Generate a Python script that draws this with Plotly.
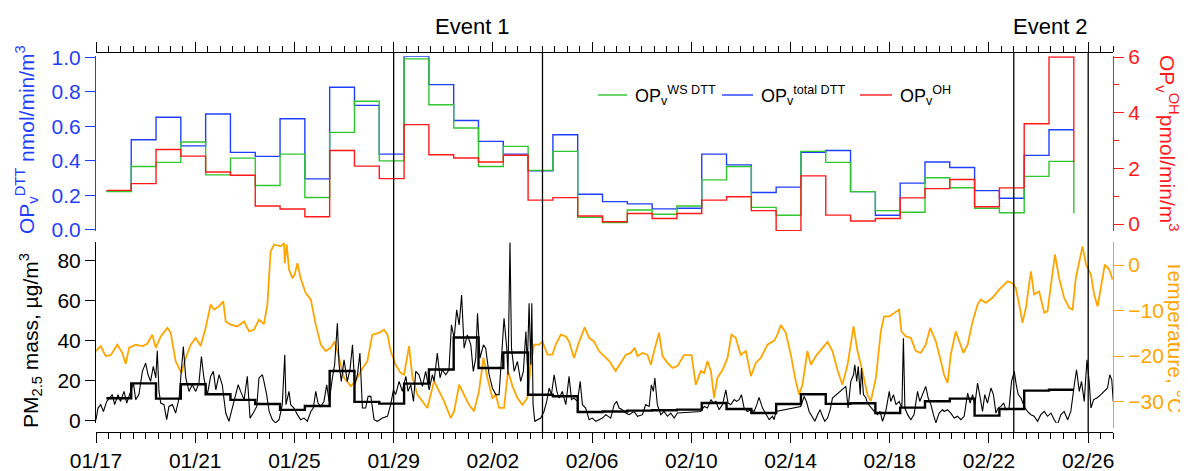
import pandas as pd
import plotly.graph_objects as go

BASE = pd.Timestamp("2019-01-17")

# ---- top panel: daily filter samples (39 samples + closing point) ----
first_bin_offset_days = 0.42
n_bins = 40
op_total_dtt = [0.225, 0.522, 0.652, 0.487, 0.671, 0.449, 0.426, 0.644, 0.296, 0.826,
                0.721, 0.439, 1.005, 0.841, 0.634, 0.513, 0.439, 0.342, 0.551, 0.207,
                0.164, 0.151, 0.122, 0.126, 0.439, 0.377, 0.217, 0.248, 0.449, 0.460,
                0.222, 0.085, 0.271, 0.393, 0.362, 0.228, 0.184, 0.432, 0.580, 0.580]
op_ws_dtt = [0.222, 0.367, 0.391, 0.509, 0.319, 0.416, 0.257, 0.439, 0.188, 0.565,
             0.745, 0.400, 0.990, 0.725, 0.590, 0.367, 0.484, 0.345, 0.455, 0.074,
             0.043, 0.116, 0.091, 0.139, 0.290, 0.367, 0.131, 0.085, 0.455, 0.391,
             0.222, 0.112, 0.103, 0.302, 0.244, 0.126, 0.100, 0.310, 0.397, 0.097]
op_oh = [1.21, 1.45, 2.68, 2.44, 1.87, 1.75, 0.65, 0.54, 0.26, 2.64,
         2.08, 1.63, 3.57, 2.49, 2.37, 2.23, 2.47, 0.86, 0.95, 0.29,
         0.08, 0.38, 0.20, 0.38, 0.86, 0.98, 0.48, -0.24, 1.73, 0.32,
         0.11, 0.20, 0.94, 1.27, 1.60, 0.62, 1.30, 3.60, 6.00, 2.23]
pm_daily = [11.2, 18.6, 11.0, 18.2, 13.2, 10.4, 8.3, 5.4, 7.3, 24.8,
            9.4, 8.5, 18.5, 25.5, 41.5, 26.3, 34.0, 12.9, 12.2, 4.3,
            4.6, 5.0, 5.2, 5.5, 8.8, 5.8, 3.8, 8.3, 13.2, 8.4,
            8.7, 3.8, 6.5, 9.7, 11.0, 2.5, 5.8, 15.0, 15.4, 15.4]

# ---- bottom panel: high-time-resolution records (days after 01/17 00:00) ----
temp_day = [0.00, 0.19, 0.39, 0.59, 0.86, 1.06, 1.20, 1.33, 1.60, 1.87, 2.07, 2.27, 2.41, 2.61, 2.88,
            3.01, 3.21, 3.44, 3.62, 3.82, 4.02, 4.22, 4.42, 4.62, 4.76, 4.96, 5.13, 5.23, 5.43, 5.70,
            5.97, 6.17, 6.37, 6.57, 6.77, 6.91, 7.04, 7.18, 7.45, 7.58, 7.61, 7.69, 7.78, 7.92, 8.01,
            8.12, 8.25, 8.45, 8.66, 8.86, 9.06, 9.26, 9.46, 9.62, 9.80, 10.00, 10.27, 10.47, 10.67, 10.94,
            11.14, 11.41, 11.61, 11.75, 11.88, 12.08, 12.28, 12.42, 12.62, 12.76, 12.96, 13.23, 13.36, 13.49, 13.63,
            13.83, 14.03, 14.30, 14.44, 14.64, 14.84, 15.04, 15.24, 15.44, 15.62, 15.78, 15.98, 16.12, 16.25, 16.45,
            16.61, 16.79, 16.99, 17.19, 17.39, 17.53, 17.66, 17.86, 18.00, 18.20, 18.40, 18.53, 18.74, 18.94, 19.07,
            19.27, 19.48, 19.70, 19.88, 20.08, 20.28, 20.48, 20.69, 20.95, 21.16, 21.36, 21.56, 21.72, 21.83, 22.03,
            22.23, 22.37, 22.50, 22.70, 22.84, 23.04, 23.24, 23.44, 23.71, 24.01, 24.18, 24.38, 24.52, 24.65, 24.79,
            24.92, 25.05, 25.26, 25.46, 25.62, 25.79, 25.99, 26.20, 26.40, 26.60, 26.80, 27.07, 27.34, 27.47, 27.61,
            27.81, 28.01, 28.21, 28.35, 28.48, 28.68, 28.82, 29.02, 29.29, 29.49, 29.69, 29.89, 30.09, 30.30, 30.54,
            30.70, 30.90, 31.10, 31.24, 31.44, 31.64, 31.77, 31.98, 32.18, 32.38, 32.47, 32.65, 32.85, 33.05, 33.25,
            33.45, 33.63, 33.86, 34.06, 34.19, 34.33, 34.46, 34.66, 34.80, 34.97, 35.14, 35.34, 35.54, 35.67, 35.87,
            36.14, 36.41, 36.61, 36.75, 36.95, 37.08, 37.22, 37.35, 37.49, 37.69, 37.82, 38.02, 38.23, 38.36, 38.50,
            38.66, 38.83, 39.03, 39.23, 39.37, 39.50, 39.64, 39.77, 39.91, 40.11, 40.24, 40.38, 40.51, 40.67, 40.85,
            40.98]
temp_val = [-18.9, -17.8, -20.0, -19.8, -17.5, -19.3, -21.7, -18.2, -17.5, -17.8, -17.3, -15.3, -18.2, -15.7, -13.8,
            -14.9, -21.1, -23.7, -20.4, -17.5, -16.0, -17.8, -13.8, -8.7, -9.8, -9.1, -8.0, -12.4, -13.1, -13.5,
            -12.4, -14.6, -14.2, -12.0, -13.0, -8.7, 3.0, 4.5, 4.1, 4.8, 0.4, 4.5, -1.0, -2.9, -2.1,
            0.4, -2.9, -6.1, -7.6, -13.1, -17.5, -18.9, -18.2, -16.8, -20.4, -24.8, -26.6, -25.5, -23.3, -21.1,
            -15.3, -14.9, -14.2, -15.3, -18.9, -21.9, -23.7, -24.1, -17.8, -24.8, -28.5, -30.3, -31.4, -28.5, -25.5,
            -27.7, -29.9, -33.6, -32.1, -26.3, -28.5, -30.7, -32.1, -27.7, -20.4, -24.8, -29.2, -28.5, -31.4, -31.4,
            -23.3, -26.6, -29.2, -30.7, -29.2, -21.9, -17.5, -17.5, -16.8, -19.7, -19.7, -17.5, -15.3, -15.7, -16.8,
            -20.4, -16.8, -13.7, -16.0, -16.8, -18.9, -20.0, -21.1, -23.3, -21.5, -19.7, -19.3, -18.2, -20.0, -19.3,
            -19.7, -21.9, -18.9, -14.9, -20.0, -21.5, -22.6, -22.2, -19.8, -19.8, -26.3, -23.3, -23.7, -21.1, -23.3,
            -29.2, -24.8, -23.0, -20.4, -15.3, -16.0, -19.7, -18.9, -24.4, -21.5, -20.4, -17.5, -16.6, -15.3, -13.2,
            -14.9, -19.7, -25.5, -28.5, -26.3, -18.9, -21.9, -20.0, -18.2, -16.9, -18.9, -23.0, -26.3, -21.9, -13.5,
            -18.9, -23.3, -28.5, -29.9, -24.8, -14.6, -11.3, -11.3, -10.5, -9.8, -14.6, -15.7, -16.0, -18.9, -19.3,
            -17.5, -13.8, -16.8, -21.1, -24.1, -25.9, -19.7, -14.6, -16.8, -19.3, -17.5, -12.4, -8.7, -7.6, -8.3,
            -7.2, -5.4, -4.3, -3.6, -4.0, -5.0, -8.7, -12.7, -9.4, -1.4, -6.5, -5.8, -10.5, -10.2, -4.3,
            2.3, -2.9, -7.2, -9.4, -9.8, -2.9, 0.8, 4.1, 0.1, -2.1, -6.5, -9.1, -5.0, 0.1, -1.0,
            -3.2]

pm_day = [0.00, 0.08, 0.19, 0.30, 0.43, 0.56, 0.66, 0.75, 0.89, 0.99, 1.13, 1.24, 1.40, 1.51, 1.60,
          1.73, 1.87, 2.00, 2.10, 2.20, 2.31, 2.41, 2.47, 2.54, 2.61, 2.74, 2.85, 2.94, 3.08, 3.21,
          3.35, 3.44, 3.52, 3.62, 3.75, 3.88, 4.02, 4.15, 4.25, 4.35, 4.49, 4.62, 4.73, 4.83, 4.96,
          5.09, 5.23, 5.36, 5.50, 5.63, 5.73, 5.83, 5.97, 6.10, 6.21, 6.34, 6.48, 6.57, 6.71, 6.77,
          6.88, 6.98, 7.11, 7.24, 7.38, 7.51, 7.61, 7.66, 7.78, 7.85, 7.98, 8.12, 8.25, 8.39, 8.52,
          8.66, 8.76, 8.86, 8.95, 9.06, 9.19, 9.30, 9.40, 9.53, 9.62, 9.73, 9.80, 9.89, 10.00, 10.13,
          10.24, 10.34, 10.43, 10.54, 10.64, 10.74, 10.87, 10.97, 11.08, 11.21, 11.34, 11.55, 11.75, 11.88, 11.99,
          12.08, 12.22, 12.35, 12.49, 12.58, 12.69, 12.80, 12.89, 13.02, 13.16, 13.29, 13.43, 13.56, 13.63, 13.76,
          13.87, 13.96, 14.10, 14.23, 14.33, 14.44, 14.54, 14.64, 14.74, 14.84, 14.97, 15.11, 15.21, 15.31, 15.38,
          15.48, 15.62, 15.71, 15.85, 15.98, 16.12, 16.25, 16.38, 16.45, 16.56, 16.61, 16.69, 16.75, 16.86, 16.99,
          17.12, 17.23, 17.33, 17.39, 17.46, 17.53, 17.57, 17.62, 17.69, 17.80, 17.93, 18.06, 18.17, 18.27, 18.36,
          18.47, 18.58, 18.67, 18.80, 18.94, 19.07, 19.17, 19.27, 19.41, 19.52, 19.61, 19.74, 19.88, 20.01, 20.15,
          20.28, 20.42, 20.55, 20.75, 20.89, 20.99, 21.09, 21.22, 21.36, 21.49, 21.69, 21.83, 22.03, 22.16, 22.30,
          22.39, 22.47, 22.53, 22.63, 22.77, 22.90, 23.04, 23.17, 23.31, 23.44, 24.38, 24.52, 24.65, 24.79, 24.89,
          24.99, 25.12, 25.26, 25.39, 25.48, 25.59, 25.73, 25.83, 25.93, 26.02, 26.13, 26.26, 26.40, 26.53, 26.64,
          26.73, 26.87, 27.00, 27.14, 27.27, 27.34, 27.41, 28.41, 28.55, 28.64, 28.75, 28.89, 28.98, 29.09, 29.19,
          29.29, 29.38, 29.49, 29.60, 29.69, 30.23, 30.32, 30.43, 30.54, 30.59, 30.67, 30.73, 30.81, 30.86, 30.94,
          31.04, 31.10, 31.24, 31.37, 31.51, 31.61, 31.71, 31.84, 31.98, 32.04, 32.15, 32.25, 32.38, 32.49, 32.55,
          32.61, 32.72, 32.85, 32.98, 33.12, 33.21, 33.32, 33.45, 33.55, 33.66, 33.76, 33.86, 33.99, 34.13, 34.19,
          34.33, 34.46, 34.60, 34.73, 34.87, 35.00, 35.14, 35.24, 35.34, 35.43, 35.54, 35.65, 35.74, 35.83, 35.94,
          36.08, 36.18, 36.28, 36.37, 36.48, 36.59, 36.68, 36.81, 36.91, 37.02, 37.10, 37.18, 37.29, 37.42, 37.55,
          37.69, 37.82, 37.96, 38.09, 38.23, 38.36, 38.50, 38.63, 38.76, 38.90, 39.03, 39.17, 39.30, 39.44, 39.53,
          39.64, 39.73, 39.84, 39.95, 40.04, 40.11, 40.22, 40.35, 40.51, 40.64, 40.78, 40.87, 40.95, 41.01]
pm_val = [0.5, 6.3, 8.0, 4.6, 9.6, 11.3, 13.0, 8.0, 13.0, 9.6, 14.6, 8.8, 14.6, 18.7, 10.5,
          13.0, 24.6, 28.7, 22.9, 19.6, 27.1, 21.3, 34.9, 14.6, 8.8, 8.0, 0.5, 7.1, 8.0, 3.8,
          11.3, 22.9, 37.0, 21.3, 14.6, 17.9, 14.6, 18.7, 32.0, 21.3, 13.0, 22.1, 24.6, 15.4, 22.9,
          17.9, 3.8, -0.3, 7.1, 13.0, 17.9, 14.6, 10.5, 22.1, 1.3, 3.8, 7.1, 21.3, 22.9, 19.6,
          13.0, 4.6, 0.5, -1.1, 0.5, 8.0, 32.9, 8.0, 14.6, 8.0, 6.3, 3.0, 0.5, 1.3, -0.3,
          4.6, 6.3, 14.6, 8.8, 7.1, 9.6, 17.9, 9.6, 21.3, 27.9, 48.6, 27.9, 19.6, 30.4, 19.6,
          25.4, 37.8, 17.9, 22.9, 33.7, 6.3, 6.3, 12.1, 12.1, 0.5, -0.3, 1.3, 2.2, 8.0, 15.4,
          13.0, 19.6, 14.6, 22.1, 14.6, 17.9, 9.6, 24.6, 22.9, 17.1, 24.6, 15.4, 22.9, 19.6, 33.7,
          21.3, 25.4, 22.9, 25.4, 47.8, 41.1, 55.3, 47.8, 62.7, 36.2, 42.8, 37.8, 24.6, 31.2, 53.6,
          31.2, 37.8, 36.2, 22.9, 16.3, 13.0, 13.0, 36.2, 51.1, 36.2, 22.9, 88.9, 36.2, 24.6, 29.5,
          19.6, 24.6, 44.5, 27.9, 58.6, 27.9, 58.6, 8.0, -0.3, 0.5, 1.3, 4.6, 9.6, 16.3, 13.0,
          22.9, 14.6, 11.3, 14.6, 8.0, 22.1, 10.5, 11.3, 9.6, 19.6, 8.0, 6.3, 0.5, 1.3, -0.3,
          0.5, 1.3, 3.0, 1.3, 8.0, 9.6, 6.3, 5.5, 3.8, 3.0, 4.6, 2.2, 3.0, 8.0, 7.1,
          17.9, 14.6, 21.3, 8.0, 3.0, 4.6, 2.2, 3.8, 1.3, 3.8, 4.6, 7.1, 6.3, 10.5, 8.8,
          9.6, 5.5, 8.0, 15.4, 8.8, 8.0, 10.5, 9.6, 10.5, 13.0, 6.3, 4.6, 5.5, 4.6, 8.0,
          11.6, 6.3, 3.8, 0.5, 2.2, 0.5, 4.6, 7.1, 12.1, 9.6, 4.6, 1.3, -0.3, 3.0, 5.5,
          2.2, -0.3, 1.3, 5.5, 11.3, 17.1, 6.3, 19.6, 22.9, 27.9, 19.6, 27.1, 13.0, 26.2, 13.0,
          11.3, 8.8, 6.3, 4.6, 3.0, 4.6, -0.3, 4.6, 14.6, 9.6, 13.0, 8.0, 9.6, 6.3, 41.1,
          6.3, 3.0, 0.5, 3.0, 14.6, 9.6, 13.0, 17.1, 11.3, 8.0, 3.0, -1.1, 3.8, 5.5, 4.6,
          5.5, 3.8, 1.3, 2.2, 0.5, 2.2, 13.8, 8.8, 13.0, 8.0, 18.7, 11.3, 4.6, 13.0, 8.8,
          16.3, 13.0, 3.8, 6.3, 7.1, 8.8, 5.5, 6.3, 19.6, 24.6, 17.9, 13.0, 11.3, 7.1, 4.6,
          3.0, 2.2, -0.3, 3.0, 4.6, 2.2, 3.8, 0.5, -2.0, 3.0, 4.6, 0.5, 4.6, 17.9, 25.4,
          14.6, 19.6, 9.6, 30.4, 19.6, 6.3, 10.5, 11.3, 13.0, 14.6, 16.3, 22.9, 20.4, 9.6]

event_bounds = [("2019-01-29", "2019-02-04"), ("2019-02-23", "2019-02-26")]
event_labels = ["Event 1", "Event 2"]
x_start, x_end = "2019-01-17", "2019-02-27"

# ---- helpers ----
def to_time(days):
    return [BASE + pd.Timedelta(days=d) for d in days]

bin_x = [BASE + pd.Timedelta(days=first_bin_offset_days + k) for k in range(n_bins)]

BLUE = "#1f3fff"
RED = "#ff1a1a"
GREEN = "#2fc62f"
ORANGE = "#ffa500"
FONT = "Liberation Sans"

fig = go.Figure()
fig.add_trace(go.Scatter(x=bin_x, y=op_total_dtt, xaxis="x2", yaxis="y2", mode="lines",
                         line=dict(color=BLUE, width=1.4, shape="hv"), name="total"))
fig.add_trace(go.Scatter(x=bin_x, y=op_ws_dtt, xaxis="x2", yaxis="y2", mode="lines",
                         line=dict(color=GREEN, width=1.4, shape="hv"), name="ws"))
fig.add_trace(go.Scatter(x=bin_x, y=op_oh, xaxis="x2", yaxis="y3", mode="lines",
                         line=dict(color=RED, width=1.4, shape="hv"), name="oh"))
fig.add_trace(go.Scatter(x=to_time(temp_day), y=temp_val, xaxis="x", yaxis="y", mode="lines",
                         line=dict(color=ORANGE, width=1.8), name="temp"))
fig.add_trace(go.Scatter(x=to_time(pm_day), y=pm_val, xaxis="x", yaxis="y4", mode="lines",
                         line=dict(color="black", width=1.1), name="pm"))
fig.add_trace(go.Scatter(x=bin_x, y=pm_daily, xaxis="x", yaxis="y4", mode="lines",
                         line=dict(color="black", width=2.4, shape="hv"), name="pm daily"))

DAY_MS = 86400000
def xaxis_style(**kw):
    d = dict(type="date", range=[x_start, x_end], tick0=x_start, dtick=4 * DAY_MS,
             tickformat="%m/%d", ticks="outside", ticklen=10, tickwidth=1, tickcolor="black",
             showline=True, linecolor="black", linewidth=1, showgrid=False, zeroline=False,
             automargin=False,
             minor=dict(dtick=DAY_MS / 2, tick0=x_start, ticks="outside", ticklen=6,
                        tickcolor="black", tickwidth=1, showgrid=False),
             tickfont=dict(family=FONT, size=21, color="black"))
    d.update(kw)
    return d

def yaxis_style(color, **kw):
    d = dict(ticks="outside", ticklen=10, tickwidth=1, tickcolor=color, showline=True,
             linecolor=color, linewidth=1.2, showgrid=False, zeroline=False, automargin=False,
             tickfont=dict(family=FONT, size=21, color=color))
    d.update(kw)
    return d

# the page body adds an 8 px offset; plot area lands at x 96..1113, y 52..432 on screen
OFF = 8
fig.update_layout(
    template="none",
    width=1188 - OFF, height=471 - OFF,
    margin=dict(l=96 - OFF, r=75, t=52 - OFF, b=39),
    paper_bgcolor="white", plot_bgcolor="rgba(0,0,0,0)",
    showlegend=False,
    font=dict(family=FONT, size=20, color="black"),
    xaxis=xaxis_style(domain=[0, 1], anchor="free", position=0, ticklabelstandoff=0),
    xaxis2=xaxis_style(domain=[0, 1], anchor="free", position=1, side="top",
                       matches="x", showticklabels=False),
    yaxis=yaxis_style(ORANGE, domain=[0.0105, 0.5], anchor="x", side="right",
                      range=[-35.8, 5.05], tickvals=[-30, -20, -10, 0]),
    yaxis4=yaxis_style("black", domain=[0.0237, 0.5], anchor="x", side="left",
                       range=[-1.15, 89.1], tickvals=[0, 20, 40, 60, 80], linewidth=1),
    yaxis2=yaxis_style(BLUE, domain=[0.529, 0.989], anchor="x2", side="left",
                       range=[-0.0058, 1.0058], tickvals=[0, 0.2, 0.4, 0.6, 0.8, 1.0],
                       tickformat=".1f"),
    yaxis3=yaxis_style(RED, overlaying="y2", anchor="x2", side="right", range=[-0.25, 6.03],
                       tickvals=[0, 2, 4, 6],
                       minor=dict(dtick=1, tick0=0, ticks="outside", ticklen=5, tickcolor=RED)),
)

# event boundaries
for a, b in event_bounds:
    for t in (a, b):
        fig.add_shape(type="line", xref="x", yref="paper", x0=t, x1=t, y0=0, y1=1,
                      line=dict(color="black", width=1.3), layer="above")

def px_x(p):
    return (p - 96) / 1017.0

def px_y(p):
    return (432 - p) / 380.0

for lab, cx in zip(event_labels, [472, 1050]):
    fig.add_annotation(text=lab, xref="paper", yref="paper", x=px_x(cx), y=px_y(27),
                       showarrow=False, xanchor="center", yanchor="middle",
                       font=dict(family=FONT, size=22, color="black"))

# legend
legend_items = [(GREEN, 598, 627, 633, "OP<sub>v</sub><sup>WS DTT</sup>"),
                (BLUE, 722, 753, 759, "OP<sub>v</sub><sup>total DTT</sup>"),
                (RED, 860, 892, 898, "OP<sub>v</sub><sup>OH</sup>")]
for col, x0, x1, xt, txt in legend_items:
    fig.add_shape(type="line", xref="paper", yref="paper", x0=px_x(x0), x1=px_x(x1),
                  y0=px_y(95), y1=px_y(95), line=dict(color=col, width=1.4))
    fig.add_annotation(text=txt, xref="paper", yref="paper", x=px_x(xt), y=px_y(95),
                       showarrow=False, xanchor="left", yanchor="middle",
                       font=dict(family=FONT, size=18, color="black"))

# axis titles
titles = [("OP<sub>v</sub><sup>DTT</sup> nmol/min/m<sup>3</sup>", 26, 140, -90, BLUE),
          ("PM<sub>2.5</sub> mass, µg/m<sup>3</sup>", 30, 341, -90, "black"),
          ("OP<sub>v</sub><sup>OH</sup>pmol/min/m<sup>3</sup>", 1168, 143, 90, RED),
          ("Temperature, °C", 1176, 336, 90, ORANGE)]
for txt, cx, cy, ang, col in titles:
    fig.add_annotation(text=txt, xref="paper", yref="paper", x=px_x(cx), y=px_y(cy),
                       showarrow=False, xanchor="center", yanchor="middle", textangle=ang,
                       font=dict(family=FONT, size=21, color=col))

fig.write_html("out.html")
